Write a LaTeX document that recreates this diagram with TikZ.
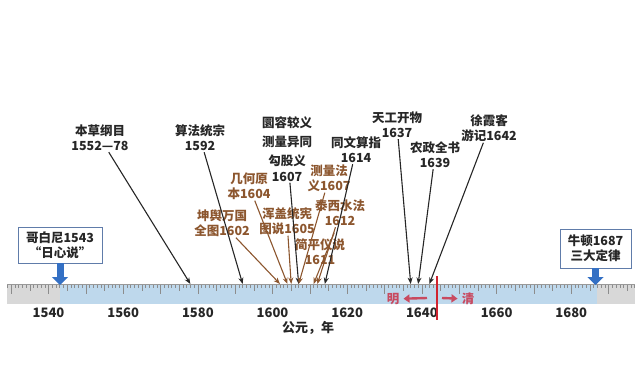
\documentclass[tikz,border=0pt]{standalone}
\usepackage{fontspec}
\setmainfont{Noto Sans CJK SC}
\usetikzlibrary{arrows.meta,positioning}
\definecolor{bookbrown}{RGB}{140,86,46}
\definecolor{rulerblue}{RGB}{190,216,236}
\definecolor{rulergray}{RGB}{216,216,216}
\definecolor{boxblue}{RGB}{96,124,170}
\definecolor{arrowblue}{RGB}{52,112,196}
\definecolor{mqred}{RGB}{208,36,48}
\definecolor{mqpink}{RGB}{200,74,96}
% year -> x position on the ruler
\newcommand{\yx}[1]{48.5+(#1-1540)*3.734}
\tikzset{bookname/.style={
    % The font:
    font=\bfseries\fontsize{12.5}{15}\selectfont,
    % The text:
    align=center,
    inner sep=1pt,
    text=black!85
    },
    westbook/.style={
    bookname,
    text=bookbrown,
    },
    scibox/.style={
    % The shape:
    rectangle,
    % The border:
    thick,
    draw=boxblue,
    fill=white,
    font=\bfseries\fontsize{12.5}{15}\selectfont,
    align=center,
    text=black!85,
    },
    bookarrow/.style={-{Stealth[length=6.5pt,width=5pt]}, line width=1.1pt, draw=black!85},
    westarrow/.style={bookarrow, draw=bookbrown},
    bluearrow/.style={-{Triangle[width=16pt,length=8pt]}, line width=7pt, draw=arrowblue, shorten >=-1pt},
    rulertick/.style={draw=black!45, line width=0.5pt},
    yearlabel/.style={font=\bfseries\fontsize{13}{15}\selectfont, text=black!85, inner sep=1pt},
    mqtext/.style={font=\bfseries\fontsize{12.5}{15}\selectfont, text=mqpink, inner sep=4pt},
    mqarrow/.style={-{Triangle[width=8pt,length=6pt]}, line width=2.4pt, draw=mqpink},
}

\begin{document}
\begin{tikzpicture}[x=1pt,y=-1pt]
    \useasboundingbox (0,0) rectangle (639,380);

    % the ruler
    \fill[rulergray] (7,284) rectangle ({\yx{1543}},304);
    \fill[rulerblue] ({\yx{1543}},284) rectangle ({\yx{1687}},304);
    \fill[rulergray] ({\yx{1687}},284) rectangle (635,304);
    \foreach \yr in {1529,...,1697}{
      \pgfmathsetmacro\tl{ifthenelse(mod(\yr,10)==0,10,ifthenelse(mod(\yr,5)==0,7,4))}
      \draw[rulertick] ({\yx{\yr}},284) -- ++(0,\tl);
    }
    \draw[black!40, line width=0.8pt] (7,284) -- (635,284);
    \foreach \yr in {1540,1560,...,1680}
      \node[yearlabel] (l\yr) at ({\yx{\yr}},313) {\yr};
    \node[yearlabel] (axisname) at (308,328) {公元，年};

    % points on the ruler
    \foreach \yr in {1543,1578,1592,1602,1604,1605,1607,1611,1612,1614,1637,1639,1642,1644,1687}
      \coordinate (t\yr) at ({\yx{\yr}},284);

    % Copernicus and Newton
    \node (copernicus) [scibox,minimum width=84pt,minimum height=36pt] at (60,245) {哥白尼1543\\“日心说”};
    \node (newton)     [scibox,minimum width=71pt,minimum height=39pt] at (595.5,248.5) {牛顿1687\\三大定律};
    \draw[bluearrow] (copernicus.south) -- (copernicus.south |- t1543);
    \draw[bluearrow] (newton.south) -- (newton.south |- t1687);

    % Chinese books
    \node (bencao)   [bookname] at (100,138) {本草纲目\\1552—78};
    \node (suanfa)   [bookname] at (200,138) {算法统宗\\1592};
    \node (gougu)    [bookname] at (287,149) {圜容较义\\[4pt]测量异同\\[4pt]勾股义\\[1pt]1607};
    \node (tongwen)  [bookname] at (356,150) {同文算指\\1614};
    \node (tiangong) [bookname] at (397,125) {天工开物\\1637};
    \node (nongzheng)[bookname] at (435,155) {农政全书\\1639};
    \node (xuxiake)  [bookname] at (489,128) {徐霞客\\游记1642};

    % translated western books
    \node (kunyu)    [westbook] at (222,223) {坤舆万国\\全图1602};
    \node (jihe)     [westbook] at (249,186) {几何原\\本1604};
    \node (hungai)   [westbook] at (287,221) {浑盖统宪\\图说1605};
    \node (celiang)  [westbook] at (329,178) {测量法\\义1607};
    \node (taixi)    [westbook] at (340,213) {泰西水法\\1612};
    \node (jianping) [westbook] at (320,252) {简平仪说\\1611};

    \draw[bookarrow] (bencao) -- (t1578);
    \draw[bookarrow] (suanfa) -- (t1592);
    \draw[bookarrow] (gougu) -- (t1607);
    \draw[bookarrow] (tongwen) -- (t1614);
    \draw[bookarrow] (tiangong) -- (t1637);
    \draw[bookarrow] (nongzheng) -- (t1639);
    \draw[bookarrow] (xuxiake) -- (t1642);

    \draw[westarrow] (kunyu) -- (t1602);
    \draw[westarrow] (jihe) -- (t1604);
    \draw[westarrow] (hungai) -- (t1605);
    \draw[westarrow] (celiang) -- (t1607);
    \draw[westarrow] (taixi) -- (t1612);
    \draw[westarrow] ([xshift=-12pt,yshift=5pt]jianping.north east) -- (t1611);

    % Ming / Qing
    \draw[mqred, line width=2.6pt] ([yshift=8pt]t1644) -- ([yshift=-36pt]t1644);
    \node (ming) [mqtext] at (393,299) {明};
    \node (qing) [mqtext] at (468,299) {清};
    \coordinate (mingtail) at (427,298);
    \coordinate (qingtail) at (442,298);
    \draw[mqarrow] (mingtail) -- (ming);
    \draw[mqarrow] (qingtail) -- (qing);
\end{tikzpicture}
\end{document}
